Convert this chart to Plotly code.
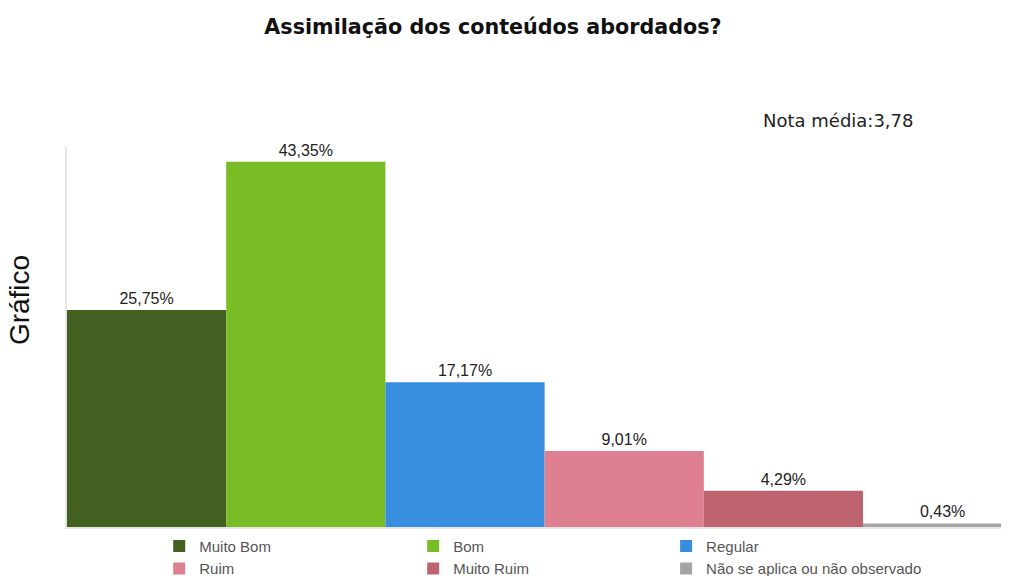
import plotly.graph_objects as go

categories = ["Muito Bom", "Bom", "Regular", "Ruim", "Muito Ruim", "Não se aplica ou não observado"]
values = [25.75, 43.35, 17.17, 9.01, 4.29, 0.43]
labels = ["25,75%", "43,35%", "17,17%", "9,01%", "4,29%", "0,43%"]
colors = ["#426121", "#78bd26", "#388ddf", "#de808f", "#be646f", "#a5a5a5"]
legend_ids = ["legend", "legend2", "legend3", "legend", "legend2", "legend3"]

fig = go.Figure()
for i, (c, v, t, col, lg) in enumerate(zip(categories, values, labels, colors, legend_ids)):
    fig.add_trace(go.Bar(
        x=[i], y=[v], name=c, width=1, legend=lg,
        marker=dict(color=col, line=dict(width=0)),
        text=[t], textposition="outside", cliponaxis=False,
        textfont=dict(family="Liberation Sans, Arial", size=16, color="#222222"),
    ))

legend_common = dict(orientation="v", y=-0.0071, yanchor="top", xanchor="left",
                     traceorder="normal", tracegroupgap=0, bgcolor="rgba(0,0,0,0)",
                     font=dict(family="Liberation Sans, Arial", size=15, color="#555555"),
                     itemclick=False)

fig.update_layout(
    width=1001, height=568,
    margin=dict(l=59, r=0, t=139, b=49, autoexpand=False),
    plot_bgcolor="white", paper_bgcolor="white",
    barmode="overlay",
    title=dict(text="<b>Assimilação dos conteúdos abordados?</b>", x=0.4845, xanchor="center",
               y=0.9665, yanchor="middle",
               font=dict(family="DejaVu Sans", size=20.7, color="#111111")),
    xaxis=dict(range=[-0.5, 5.417], showticklabels=False, showgrid=False, zeroline=False,
               showline=True, linecolor="#e6e6e6", linewidth=2, fixedrange=True),
    yaxis=dict(range=[0, 45.1], showticklabels=False, showgrid=False, zeroline=False,
               showline=True, linecolor="#e6e6e6", linewidth=2),
    showlegend=True,
    legend=dict(x=0.0979, **legend_common),
    legend2=dict(x=0.3675, **legend_common),
    legend3=dict(x=0.6360, **legend_common),
    annotations=[
        dict(text="Nota média:3,78", xref="paper", yref="paper", x=0.8185, y=1.071,
             xanchor="center", yanchor="middle", showarrow=False,
             font=dict(family="DejaVu Sans", size=18, color="#222222")),
        dict(text="Gráfico", xref="paper", yref="paper", x=-0.051, y=0.597,
             xanchor="center", yanchor="middle", showarrow=False, textangle=-90,
             font=dict(family="Liberation Sans, Arial", size=28, color="#111111")),
    ],
)

fig.write_html("out.html")
